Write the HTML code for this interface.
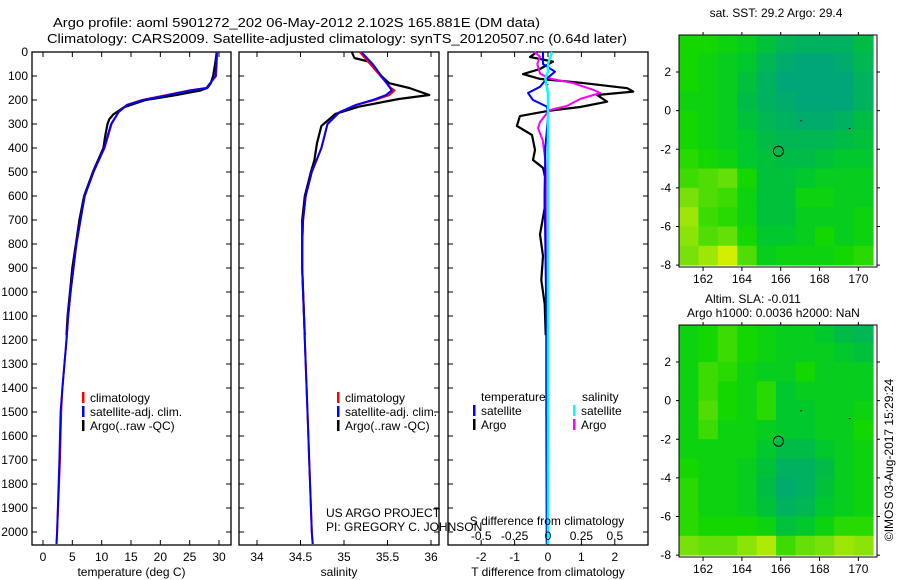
<!DOCTYPE html>
<html><head><meta charset="utf-8"><style>
html,body{margin:0;padding:0;background:#fff;}
svg{display:block;font-family:"Liberation Sans",sans-serif;}
</style></head><body>
<svg id="fig" width="900" height="580" viewBox="0 0 900 580" xmlns="http://www.w3.org/2000/svg">
<text x="53" y="27" font-size="13" textLength="487" lengthAdjust="spacingAndGlyphs">Argo profile: aoml 5901272_202 06-May-2012 2.102S 165.881E (DM data)</text>
<text x="47" y="43" font-size="13" textLength="580" lengthAdjust="spacingAndGlyphs">Climatology: CARS2009. Satellite-adjusted climatology: synTS_20120507.nc (0.64d later)</text>
<g id="g"></g>
</svg>
<script>
// ---------- data ----------
const depthTicks=[0,100,200,300,400,500,600,700,800,900,1000,1100,1200,1300,1400,1500,1600,1700,1800,1900,2000];
const tempTicks=[0,5,10,15,20,25,30];
const salTicks=[34,34.5,35,35.5,36];
const tdiffTicks=[-2,-1,0,1,2];
const sdiffTicks=[-0.5,-0.25,0,0.25,0.5];
const climDepth=[0,50,100,150,160,180,200,220,250,300,400,500,600,700,800,900,1000,1100,1200,1400,1500,1700,2000,2050];
const climTemp=[29.7,29.6,29.5,27.8,25,20.9,16.9,14.3,12.9,11.7,10.5,8.6,7.1,6.4,5.7,5.2,4.7,4.3,4.0,3.3,3.1,2.9,2.4,2.3];
const satTemp=[29.6,29.5,29.4,27.9,25.2,21.2,17.1,14.4,12.9,11.6,10.4,8.6,7.1,6.4,5.7,5.2,4.7,4.3,4.0,3.3,3.0,2.8,2.4,2.3];
const climSal=[35.18,35.3,35.42,35.54,35.58,35.52,35.35,35.15,34.95,34.81,34.74,34.63,34.56,34.53,34.52,34.52,34.53,34.54,34.55,34.57,34.58,34.6,34.63,34.64];
const satSal=[35.2,35.33,35.43,35.53,35.55,35.48,35.33,35.14,34.95,34.81,34.74,34.63,34.56,34.53,34.52,34.52,34.53,34.54,34.55,34.57,34.58,34.6,34.63,34.64];
const argoTDepth=[0,40,100,130,150,160,180,200,230,260,280,300,350,400,500,600,700,800,900,1000,1100,1180];
const argoTemp=[29.6,29.4,29.0,28.6,28.0,26.9,22.6,17.5,13.8,12.0,11.3,11.0,10.6,10.3,8.5,7.0,6.2,5.6,5.0,4.6,4.2,4.0];
const argoSDepth=[0,25,40,60,100,130,150,179,196,228,258,308,380,450,500,600,700,800,900,1000,1100,1180];
const argoSal=[35.09,35.12,35.28,35.33,35.43,35.52,35.75,35.98,35.63,35.17,34.9,34.74,34.69,34.66,34.62,34.55,34.52,34.52,34.52,34.53,34.54,34.55];
const tdiffDepth=[0,21,40,71,92,112,128,151,165,179,207,229,244,267,308,346,408,450,483,520,600,650,760,850,950,1050,1180];
const argoTdiff=[-0.33,-0.54,0.15,-0.24,-0.75,-0.24,0.96,2.37,2.55,1.47,1.77,0.96,0.06,-0.84,-0.93,-0.48,-0.39,-0.45,-0.15,-0.09,-0.1,-0.1,-0.24,-0.15,-0.2,-0.1,-0.07];
const sdiffDepth=[0,20,50,90,110,130,158,171,196,225,242,292,317,367,450,500,1180];
const argoSdiff=[-0.1,-0.06,-0.08,-0.06,0.01,0.19,0.34,0.39,0.24,0.14,0.01,-0.06,-0.075,-0.04,-0.02,-0.015,-0.01];
const satDiffDepth=[0,50,82,110,145,171,200,228,270,400,600,800,1000,1200,1500,2050];
const satTdiff=[-0.15,-0.15,0.21,-0.03,-0.24,-0.6,-0.45,-0.03,0,-0.08,-0.1,-0.08,-0.06,-0.05,-0.05,-0.04];
const satSdiff=[0.03,0,0,-0.02,-0.01,0,0,0,0,0,0,0,0,0,0,0];
const lonTicks=[162,164,166,168,170];
const latTicks=[2,0,-2,-4,-6,-8];
const sstGrid=[
[0.45,0.45,0.4,0.35,0.25,0.15,0.1,0.1,0.1,0.2],
[0.45,0.4,0.35,0.3,0.15,0.05,0.0,0.0,0.05,0.15],
[0.45,0.4,0.35,0.25,0.1,0.0,0.0,0.0,0.0,0.1],
[0.4,0.4,0.35,0.2,0.1,0.05,0.0,0.0,0.0,0.1],
[0.45,0.4,0.35,0.25,0.15,0.1,0.05,0.05,0.1,0.2],
[0.45,0.4,0.35,0.3,0.2,0.15,0.15,0.15,0.2,0.25],
[0.5,0.45,0.4,0.3,0.25,0.2,0.2,0.25,0.3,0.3],
[0.55,0.6,0.65,0.45,0.25,0.25,0.3,0.35,0.35,0.35],
[0.7,0.6,0.55,0.4,0.25,0.25,0.4,0.4,0.35,0.35],
[0.8,0.55,0.5,0.4,0.25,0.25,0.35,0.35,0.35,0.4],
[0.75,0.6,0.65,0.45,0.3,0.3,0.35,0.45,0.35,0.4],
[0.7,0.8,0.95,0.6,0.35,0.4,0.4,0.4,0.45,0.5]];
const slaGrid=[
[0.4,0.45,0.55,0.45,0.4,0.35,0.35,0.3,0.2,0.15],
[0.4,0.45,0.55,0.45,0.4,0.35,0.35,0.35,0.3,0.25],
[0.4,0.55,0.5,0.4,0.35,0.35,0.45,0.35,0.35,0.35],
[0.4,0.55,0.45,0.4,0.5,0.3,0.35,0.35,0.35,0.35],
[0.4,0.6,0.45,0.4,0.5,0.3,0.3,0.35,0.35,0.4],
[0.4,0.55,0.4,0.4,0.35,0.3,0.3,0.35,0.35,0.45],
[0.4,0.4,0.4,0.4,0.3,0.2,0.2,0.3,0.35,0.4],
[0.45,0.4,0.4,0.35,0.25,0.1,0.1,0.2,0.35,0.4],
[0.5,0.4,0.4,0.35,0.2,0.05,0.1,0.25,0.35,0.4],
[0.5,0.4,0.4,0.35,0.25,0.1,0.15,0.3,0.35,0.4],
[0.5,0.45,0.45,0.45,0.4,0.25,0.3,0.4,0.5,0.5],
[0.7,0.65,0.65,0.75,0.85,0.55,0.65,0.7,0.8,0.75]];
const floatLon=165.881, floatLat=-2.102;

// ---------- helpers ----------
const NS="http://www.w3.org/2000/svg";
const G=document.getElementById('g');
function mk(tag,at,parent){const e=document.createElementNS(NS,tag);for(const k in at)e.setAttribute(k,at[k]);(parent||G).appendChild(e);return e;}
const yD=d=>52+d*0.24;
function lin(d0,d1,r0,r1){return v=>r0+(v-d0)*(r1-r0)/(d1-d0);}
const xT=lin(0,30,43,219), xS=lin(34,36,257,431), xTd=lin(0,1,548,581.4), xSd=lin(0,1,548,681.6);
const TOP=52,BOT=545;

function frame(x0,x1,name,xticks,xf,labels,xlabel){
  let r=mk('rect',{x:x0,y:TOP,width:x1-x0,height:BOT-TOP,fill:'none',stroke:'#000','stroke-width':1.3});
  
  
  depthTicks.forEach(d=>{
    let t=mk('path',{d:`M${x0},${yD(d)}h5M${x1},${yD(d)}h-5`,stroke:'#000','stroke-width':1});
    
    
  });
  xticks.forEach(v=>{
    const x=xf(v);
    let t=mk('path',{d:`M${x},${TOP}v5M${x},${BOT}v-5`,stroke:'#000','stroke-width':1});
    
    
    if(labels){let l=mk('text',{x:x,y:561,'font-size':12,'text-anchor':'middle'});l.textContent=String(v);
      
      }
  });
  let xl=mk('text',{x:(x0+x1)/2,y:576,'font-size':12,'text-anchor':'middle'});xl.textContent=xlabel;
  
  
}
function line(xs,ds,xf,color,w,name){
  const pts=xs.map((v,i)=>xf(v).toFixed(1)+','+yD(ds[i]).toFixed(1)).join(' ');
  let p=mk('polyline',{points:pts,fill:'none',stroke:color,'stroke-width':w,'stroke-linejoin':'round'});
  
  
}
function txt(x,y,s,name,anchor,size){let t=mk('text',{x:x,y:y,'font-size':size||12,'text-anchor':anchor||'start'});t.textContent=s;
  
  return t;}
function leg(x,y,color,s,name){
  let m=mk('rect',{x:x,y:y-10,width:2.5,height:11,fill:color});
  
  
  txt(x+8,y,s,name);
}

depthTicks.forEach(d=>{txt(28,yD(d)+4,String(d),'depth-tick-label','end');});

// panel 1
frame(32,231,'temperature-panel',tempTicks,xT,true,'temperature (deg C)');
line(argoTemp,argoTDepth,xT,'#000',2.2,'argo-temperature-line');
line(climTemp,climDepth,xT,'#f00',2,'climatology-temperature-line');
line(satTemp,climDepth,xT,'#00f',2,'satellite-temperature-line');
leg(82,402,'#f00','climatology','legend-climatology');
leg(82,416,'#00f','satellite-adj. clim.','legend-satellite-adj');
leg(82,430,'#000','Argo(..raw -QC)','legend-argo');

// panel 2
frame(239,439,'salinity-panel',salTicks,xS,true,'salinity');
line(argoSal,argoSDepth,xS,'#000',2.2,'argo-salinity-line');
line(climSal,climDepth,xS,'#f00',2,'climatology-salinity-line');
line(satSal,climDepth,xS,'#00f',2,'satellite-salinity-line');
leg(337,402,'#f00','climatology','legend-climatology');
leg(337,416,'#00f','satellite-adj. clim.','legend-satellite-adj');
leg(337,430,'#000','Argo(..raw -QC)','legend-argo');
txt(326,517,'US ARGO PROJECT','project-credit');
txt(326,531,'PI: GREGORY C. JOHNSON','pi-credit');

// panel 3
frame(448,648,'difference-panel',tdiffTicks,xTd,true,'T difference from climatology');
let zl=mk('line',{x1:548,y1:yD(100),x2:548,y2:yD(200),stroke:'#000','stroke-width':1,'stroke-dasharray':'1,3'});


line(argoTdiff,tdiffDepth,xTd,'#000',2.2,'argo-temperature-difference-line');
line(argoSdiff,sdiffDepth,xSd,'#f0f',2,'argo-salinity-difference-line');
line(satTdiff,satDiffDepth,xTd,'#00f',2,'satellite-temperature-difference-line');
line(satSdiff,satDiffDepth,xSd,'#0ff',2.5,'satellite-salinity-difference-line');
sdiffTicks.forEach(v=>{txt(xSd(v),540,String(v),'s-diff-tick-label','middle');});
txt(547,525,'S difference from climatology','s-diff-axis-title','middle');
txt(481,401,'temperature','legend-temperature-heading');
txt(582,401,'salinity','legend-salinity-heading');
leg(473,415,'#00f','satellite','legend-temp-satellite');
leg(473,429,'#000','Argo','legend-temp-argo');
leg(573,415,'#0ff','satellite','legend-sal-satellite');
leg(573,429,'#f0f','Argo','legend-sal-argo');

// maps
function col(v){
  const st=[[0,[0,165,120]],[0.3,[0,200,45]],[0.45,[20,215,0]],[0.7,[120,225,10]],[1,[230,240,0]]];
  for(let i=1;i<st.length;i++){if(v<=st[i][0]){const a=st[i-1],b=st[i],f=(v-a[0])/(b[0]-a[0]);
    return 'rgb('+a[1].map((c,j)=>Math.round(c+(b[1][j]-c)*f)).join(',')+')';}}
  return 'rgb(230,240,0)';
}
function map(grid,oy,name){
  const X0=679,X1=877,Y0=oy,Y1=oy+232;
  const xL=lin(160.76,170.96,X0,X1), yL=lin(3.92,-8.1,Y0,Y1);
  grid.forEach((row,r)=>row.forEach((v,c)=>{
    const la0=Math.min(3.92,4-r), la1=3-r;
    const lo0=Math.max(160.76,161+c-0.24), lo1=Math.min(170.96,162+c-0.24);
    let cell=mk('rect',{x:xL(lo0),y:yL(la0),width:xL(lo1)-xL(lo0)+0.5,height:yL(la1)-yL(la0)+0.5,fill:col(v)});
    
    
  }));
  let f=mk('rect',{x:X0,y:Y0,width:X1-X0,height:Y1-Y0,fill:'none',stroke:'#000','stroke-width':1});
  
  
  lonTicks.forEach(v=>{const x=xL(v);
    let t=mk('path',{d:`M${x},${Y0}v-3M${x},${Y1}v4`,stroke:'#000'});
    
    
    txt(x,Y1+16,String(v),'lon-tick-label','middle');});
  latTicks.forEach(v=>{const y=yL(v);
    let t=mk('path',{d:`M${X0},${y}h-3M${X1},${y}h3`,stroke:'#000'});
    
    
    txt(X0-8,y+4,String(v),'lat-tick-label','end');});
  let c=mk('circle',{cx:xL(floatLon),cy:yL(floatLat),r:5,fill:'none',stroke:'#000','stroke-width':1});
  
  
  let d1=mk('rect',{x:xL(167),y:yL(-0.5),width:2,height:1,fill:'#000'});
  
  
  let d2=mk('rect',{x:xL(169.5),y:yL(-0.9),width:2,height:1,fill:'#000'});
  
  
}
map(sstGrid,35,'sst-map');
map(slaGrid,325,'sla-map');
txt(776,17,'sat. SST: 29.2 Argo: 29.4','sst-map-title','middle');
txt(705,303,'Altim. SLA: -0.011','sla-map-title');
txt(687,317,'Argo h1000: 0.0036 h2000: NaN','argo-height-label');
let cr=txt(0,0,'©IMOS 03-Aug-2017 15:29:24','copyright-stamp','middle');
cr.setAttribute('transform','translate(893,460) rotate(-90)');
</script>
</body></html>
